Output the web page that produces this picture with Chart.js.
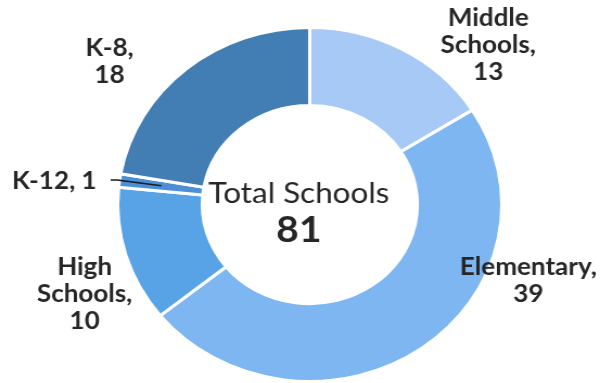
<!DOCTYPE html>
<html>
<head>
<meta charset="utf-8">
<script src="https://cdn.jsdelivr.net/npm/chart.js@4"></script>
<style>
  html, body { margin: 0; padding: 0; background: #fff; overflow: hidden; }
  /* the chart is drawn a little narrower and widened to fill the page */
  #wrap { width: 565px; height: 383px; transform: scaleX(1.085); transform-origin: 0 0; }
</style>
</head>
<body>
<div id="wrap"><canvas id="schoolsChart" width="565" height="383"></canvas></div>
<script>
const categories = ['Middle Schools', 'Elementary', 'High Schools', 'K-12', 'K-8'];
const schoolCounts = [13, 39, 10, 1, 18];
const sliceColors = ['#a6c9f5', '#7db6f1', '#58a3e6', '#4b90d6', '#427db3'];
const centerTitle = 'Total Schools';

// where each outside label sits (centre x, first baseline)
const labelLayout = [
  { x: 450, y: 26 },
  { x: 487, y: 275 },
  { x: 78, y: 275 },
  { x: 50, y: 189, inline: true, leader: true },
  { x: 101, y: 56 }
];
const textColor = '#262626';
const labelFont = 'bold 24px Lato';
const lineHeight = 27;

function labelText(i) {
  const words = categories[i].split(' ');
  if (labelLayout[i].inline) return [categories[i] + ', ' + schoolCounts[i]];
  words[words.length - 1] += ',';
  return words.concat(String(schoolCounts[i]));
}

const labelsPlugin = {
  id: 'schoolLabels',
  afterDraw(chart) {
    const ctx = chart.ctx;
    const arcs = chart.getDatasetMeta(0).data;
    const cx = arcs[0].x, cy = arcs[0].y;
    ctx.save();
    ctx.fillStyle = textColor;
    ctx.textAlign = 'center';
    ctx.textBaseline = 'alphabetic';

    // centre caption and total
    const total = schoolCounts.reduce((a, b) => a + b, 0);
    ctx.font = '29px Lato';
    ctx.fillText(centerTitle, cx - 10, cy - 2);
    ctx.font = 'bold 36px Lato';
    ctx.fillText(String(total), cx - 10, cy + 37);

    ctx.font = labelFont;
    labelLayout.forEach((pos, i) => {
      const lines = labelText(i);
      lines.forEach((line, k) => ctx.fillText(line, pos.x, pos.y + k * lineHeight));
      if (pos.leader) {
        const arc = arcs[i];
        const mid = (arc.startAngle + arc.endAngle) / 2;
        const r = (arc.innerRadius + arc.outerRadius) / 2;
        const w = ctx.measureText(lines[0]).width;
        const sx = pos.x + w / 2 + 13;
        ctx.strokeStyle = '#1a1a1a';
        ctx.lineWidth = 1.5;
        ctx.beginPath();
        ctx.moveTo(sx, pos.y - 9);
        ctx.lineTo(sx + 6, pos.y - 9);
        ctx.lineTo(arc.x + Math.cos(mid) * r, arc.y + Math.sin(mid) * r);
        ctx.stroke();
      }
    });
    ctx.restore();
  }
};

new Chart(document.getElementById('schoolsChart').getContext('2d'), {
  type: 'doughnut',
  data: {
    labels: categories,
    datasets: [{
      data: schoolCounts,
      backgroundColor: sliceColors,
      borderColor: '#ffffff',
      borderWidth: 3
    }]
  },
  options: {
    responsive: false,
    animation: false,
    devicePixelRatio: 1,
    cutout: '56%',
    layout: { padding: { left: 107, right: 101, top: 26, bottom: 0 } },
    plugins: {
      legend: { display: false },
      tooltip: { enabled: false }
    }
  },
  plugins: [labelsPlugin]
});
</script>
</body>
</html>
